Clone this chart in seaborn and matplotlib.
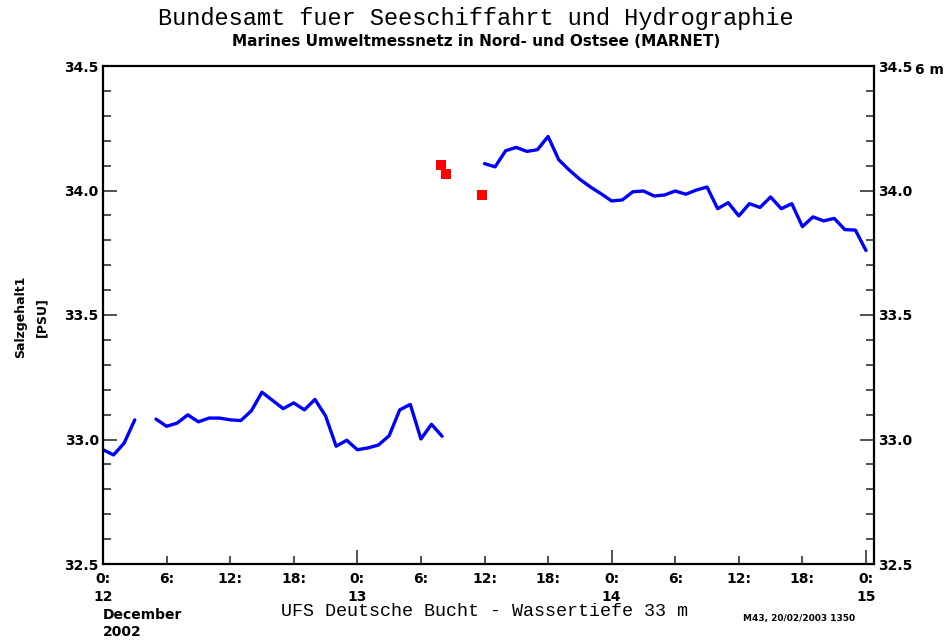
# MARNET salinity plot - UFS Deutsche Bucht, December 2002

import pandas as pd
import numpy as np
import matplotlib
matplotlib.use("Agg")
import matplotlib.pyplot as plt
import seaborn as sns

# Data (hours since 12 Dec 2002 00:00, salinity in PSU)

seg1_hours = [0, 1, 2, 3]
seg1_salt = [32.959, 32.938, 32.986, 33.079]

seg2_hours = [5, 6, 7, 8, 9, 10, 11, 12, 13, 14, 15, 16, 17, 18, 19, 20,
              21, 22, 23, 24, 25, 26, 27, 28, 29, 30, 31, 32]
seg2_salt = [33.082, 33.053, 33.066, 33.099, 33.071, 33.086, 33.086, 33.079,
             33.076, 33.115, 33.190, 33.157, 33.124, 33.147, 33.119, 33.161,
             33.095, 32.973, 32.997, 32.959, 32.966, 32.978, 33.015, 33.119,
             33.141, 33.002, 33.061, 33.013]

seg3_hours = [36, 37, 38, 39, 40, 41, 42, 43, 44, 45, 46, 47, 48, 49, 50,
              51, 52, 53, 54, 55, 56, 57, 58, 59, 60, 61, 62, 63, 64, 65,
              66, 67, 68, 69, 70, 71, 72]
seg3_salt = [34.108, 34.095, 34.160, 34.173, 34.157, 34.164, 34.217, 34.124,
             34.082, 34.045, 34.014, 33.987, 33.958, 33.962, 33.995, 33.998,
             33.978, 33.982, 33.998, 33.985, 34.002, 34.014, 33.927, 33.951,
             33.898, 33.947, 33.932, 33.974, 33.927, 33.947, 33.855, 33.894,
             33.878, 33.888, 33.843, 33.841, 33.759]

flag_hours = [31.9, 32.4, 35.8]
flag_salt = [34.103, 34.065, 33.982]

day_labels = ["0:\n12", "0:\n13", "0:\n14", "0:\n15"]
hour_labels = ["6:", "12:", "18:"]

# Build table

line_df = pd.concat([
    pd.DataFrame({"hour": seg1_hours, "salt": seg1_salt, "seg": 1}),
    pd.DataFrame({"hour": seg2_hours, "salt": seg2_salt, "seg": 2}),
    pd.DataFrame({"hour": seg3_hours, "salt": seg3_salt, "seg": 3}),
], ignore_index=True)

flag_df = pd.DataFrame({"hour": flag_hours, "salt": flag_salt})

sns.set_style("white")
plt.rcParams["font.family"] = ["DejaVu Sans"]
plt.rcParams["text.color"] = "black"
plt.rcParams["xtick.color"] = "black"
plt.rcParams["ytick.color"] = "black"

fig = plt.figure(figsize=(9.52, 6.4), dpi=100)
ax = fig.add_axes([103/952, 1 - 564/640, 771/952, 498/640])

sns.lineplot(
    data=line_df, x="hour", y="salt",
    units="seg", estimator=None,
    color="#0000ff", linewidth=2.4, ax=ax
)

sns.scatterplot(
    data=flag_df, x="hour", y="salt",
    marker="s", color="#ff0000", s=45, linewidth=0, ax=ax
)

# Axes

ax.set_xlim(0, 72 * 771 / 763)
ax.set_ylim(32.5, 34.5)
ax.set_xlabel("")
ax.set_ylabel("")

for sp in ax.spines.values():
    sp.set_color("black")
    sp.set_linewidth(1.6)

ax.set_yticks([32.5, 33.0, 33.5, 34.0, 34.5])
ax.set_yticks(np.arange(32.6, 34.5, 0.1), minor=True)
ax.set_yticklabels(["32.5", "33.0", "33.5", "34.0", "34.5"])

ax.set_xticks([0, 24, 48, 72])
ax.set_xticklabels(day_labels)
ax.set_xticks([6, 12, 18, 30, 36, 42, 54, 60, 66], minor=True)
ax.set_xticklabels(hour_labels * 3, minor=True)

ax.tick_params(axis="y", which="both", direction="in", left=True, right=True,
               labelleft=True, labelright=True, color="#333333", width=1.2)
ax.tick_params(axis="y", which="major", length=10, pad=3)
ax.tick_params(axis="y", which="minor", length=6)
ax.tick_params(axis="x", which="both", direction="in", bottom=True, top=False,
               color="#333333", width=1.2, pad=6)
ax.tick_params(axis="x", which="major", length=10)
ax.tick_params(axis="x", which="minor", length=6)

for lab in ax.get_xticklabels(which="both") + ax.get_yticklabels():
    lab.set_fontweight("bold")
    lab.set_fontsize(10)
    lab.set_linespacing(1.35)
    lab.set_color("black")
for lab in ax.get_xticklabels(which="minor"):
    lab.set_verticalalignment("top")

# Texts

fig.text(0.5, 1 - 18/640, "Bundesamt fuer Seeschiffahrt und Hydrographie",
         ha="center", va="center", fontsize=17, family="Liberation Mono")
fig.text(0.5, 1 - 42/640, "Marines Umweltmessnetz in Nord- und Ostsee (MARNET)",
         ha="center", va="center", fontsize=11, fontweight="bold")

fig.text(915/952, 1 - 70/640, "6 m", ha="left", va="center",
         fontsize=10, fontweight="bold")

fig.text(21/952, 1 - 317/640, "Salzgehalt1", rotation=90, ha="center",
         va="center", fontsize=9, fontweight="bold")
fig.text(42/952, 1 - 317/640, "[PSU]", rotation=90, ha="center",
         va="center", fontsize=9, fontweight="bold")

fig.text(103/952, 1 - 615/640, "December", ha="left", va="center",
         fontsize=10, fontweight="bold")
fig.text(103/952, 1 - 632/640, "2002", ha="left", va="center",
         fontsize=10, fontweight="bold")

fig.text(485/952, 1 - 612/640, "UFS Deutsche Bucht - Wassertiefe 33 m",
         ha="center", va="center", fontsize=13.2, family="Liberation Mono")
fig.text(743/952, 1 - 619/640, "M43, 20/02/2003 1350", ha="left",
         va="center", fontsize=6.5, fontweight="bold")

fig.savefig("out.png", dpi=100)
